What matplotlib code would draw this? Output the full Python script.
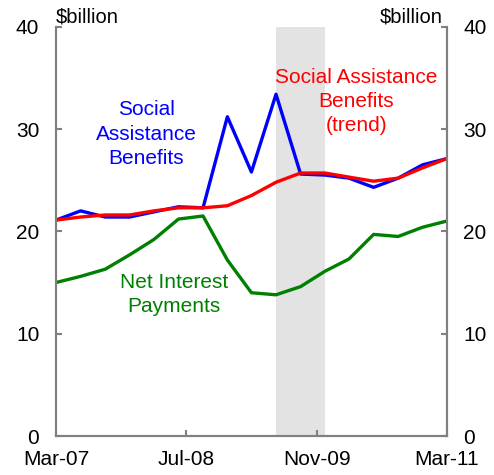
import matplotlib
matplotlib.use("Agg")
import matplotlib.pyplot as plt
import pandas as pd

plt.rcParams['font.family'] = ['Liberation Sans', 'DejaVu Sans']

quarters = pd.date_range("2007-03-01", "2011-03-01", freq="QS-MAR")
social_benefits = [21.1, 22.0, 21.4, 21.4, 21.9, 22.4, 22.3, 31.2, 25.8, 33.4,
                   25.6, 25.5, 25.2, 24.3, 25.2, 26.5, 27.1]
social_trend = [21.1, 21.4, 21.6, 21.6, 22.0, 22.3, 22.3, 22.5, 23.5, 24.8,
                25.7, 25.7, 25.3, 24.9, 25.2, 26.2, 27.1]
net_interest = [15.0, 15.6, 16.3, 17.7, 19.2, 21.2, 21.5, 17.2, 14.0, 13.8,
                14.6, 16.1, 17.3, 19.7, 19.5, 20.4, 21.0]
shade_start, shade_end = pd.Timestamp("2009-06-01"), pd.Timestamp("2009-12-01")
tick_dates = pd.to_datetime(["2007-03-01", "2008-07-01", "2009-11-01", "2011-03-01"])
tick_labels = ["Mar-07", "Jul-08", "Nov-09", "Mar-11"]

fig = plt.figure(figsize=(4.94, 4.75), dpi=100)
ax = fig.add_axes([0.1134, 0.0821, 0.7906, 0.8617])

ax.axvspan(shade_start, shade_end, color="#e3e3e3", lw=0, zorder=0)
ax.plot(quarters, net_interest, color="#008000", lw=2.4, zorder=3)
ax.plot(quarters, social_benefits, color="#0000ff", lw=2.4, zorder=3)
ax.plot(quarters, social_trend, color="#ff0000", lw=2.4, zorder=4)

ax.set_xlim(quarters[0], quarters[-1])
ax.set_ylim(0, 40)
ax.set_yticks(range(0, 41, 10))
ax.set_xticks(tick_dates)
ax.set_xticklabels(tick_labels)

ax2 = ax.twinx()
ax2.set_ylim(0, 40)
ax2.set_yticks(range(0, 41, 10))

for a in (ax, ax2):
    for s in a.spines.values():
        s.set_color("#808080")
        s.set_linewidth(1.5)
    a.spines["top"].set_visible(False)
    a.tick_params(direction="in", length=4, width=1.5, color="#808080",
                  labelsize=15, pad=12)
ax.tick_params(axis="x", pad=10)

ax.text(0.0, 1.0, "$billion", transform=ax.transAxes, ha="left", va="bottom", fontsize=14.5)
ax.text(0.99, 1.0, "$billion", transform=ax.transAxes, ha="right", va="bottom", fontsize=14.5)

ax.text(pd.Timestamp("2008-02-01"), 29.5, "Social\nAssistance\nBenefits", color="#0000ff",
        ha="center", va="center", fontsize=15, linespacing=1.35)
ax.text(pd.Timestamp("2010-03-28"), 32.7, "Social Assistance\nBenefits\n(trend)", color="#ff0000",
        ha="center", va="center", fontsize=15, linespacing=1.35)
ax.text(pd.Timestamp("2008-05-15"), 13.8, "Net Interest\nPayments", color="#008000",
        ha="center", va="center", fontsize=15, linespacing=1.35)

fig.savefig("out.png", dpi=100)
